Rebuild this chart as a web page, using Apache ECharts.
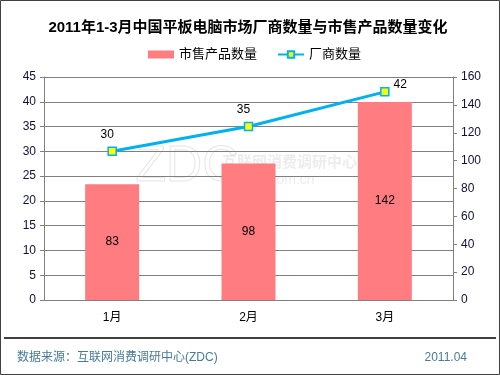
<!DOCTYPE html>
<html><head><meta charset="utf-8">
<script src="https://cdn.jsdelivr.net/npm/echarts@6/dist/echarts.min.js"></script>
<style>html,body{margin:0;padding:0;background:#fff}#c{width:500px;height:375px}</style>
</head><body><div id="c"></div>
<script>
const categories = ['1月', '2月', '3月'];
const productCounts = [83, 98, 142];
const vendorCounts = [30, 35, 42];
const leftTicks = [0, 45, 5];
const rightTicks = [0, 160, 20];

const chart = echarts.init(document.getElementById('c'));
const font = 'Arial, "Liberation Sans", "Noto Sans CJK SC", sans-serif';
const lineData = vendorCounts.map((v, i) => i === vendorCounts.length - 1
  ? {value: v, label: {position: 'right', offset: [0, -7], distance: 4}}
  : {value: v, label: {offset: [-5, 0]}});
chart.setOption({
  backgroundColor: '#fff',
  animation: false,
  title: {
    text: '2011年1-3月中国平板电脑市场厂商数量与市售产品数量变化',
    left: 243, top: 15, textAlign: 'center',
    textStyle: {fontSize: 15, fontWeight: 'bold', color: '#000', fontFamily: font}
  },
  legend: {
    top: 43, left: 143, itemGap: 20, itemWidth: 26, itemHeight: 8,
    textStyle: {fontSize: 13, color: '#000', fontFamily: font},
    data: [{name: '市售产品数量', icon: 'rect'}, {name: '厂商数量'}]
  },
  grid: {left: 44, right: 47, top: 77, bottom: 75},
  xAxis: {
    type: 'category', data: categories,
    axisLine: {lineStyle: {color: '#808080'}},
    axisTick: {lineStyle: {color: '#808080'}, length: 4},
    axisLabel: {color: '#000', fontSize: 12, margin: 12, fontFamily: font}
  },
  yAxis: [
    {type: 'value', min: leftTicks[0], max: leftTicks[1], interval: leftTicks[2],
     axisLine: {show: true, lineStyle: {color: '#808080'}},
     axisTick: {show: true, length: 4, lineStyle: {color: '#808080'}},
     axisLabel: {color: '#10103a', fontSize: 12, margin: 8, fontFamily: font},
     splitLine: {lineStyle: {color: '#808080'}}},
    {type: 'value', min: rightTicks[0], max: rightTicks[1], interval: rightTicks[2],
     axisLine: {show: true, lineStyle: {color: '#808080'}},
     axisTick: {show: true, length: 4, lineStyle: {color: '#808080'}},
     axisLabel: {color: '#10103a', fontSize: 12, margin: 8, fontFamily: font},
     splitLine: {show: false}}
  ],
  graphic: [
    {type: 'rect', shape: {x: 0.5, y: 0.5, width: 499, height: 374}, style: {fill: 'none', stroke: '#404040', lineWidth: 1}, z: 100},
    {type: 'line', shape: {x1: 4, y1: 338, x2: 496, y2: 338}, style: {stroke: '#000', lineWidth: 1.5}},
    {type: 'text', left: 17, top: 352, style: {text: '数据来源：互联网消费调研中心(ZDC)', fill: '#4A7A94', fontSize: 12, fontFamily: font}},
    {type: 'text', right: 33, top: 352, style: {text: '2011.04', fill: '#4A7A94', fontSize: 12, fontFamily: font}},
    {type: 'text', left: 135, top: 142, z: 0, style: {text: 'ZDC', fill: 'rgba(0,0,0,0)', stroke: 'rgba(180,180,180,0.35)', lineWidth: 1, fontSize: 50, fontFamily: font}},
    {type: 'text', left: 222, top: 155, z: 0, style: {text: '互联网消费调研中心', fill: 'rgba(200,200,200,0.35)', fontSize: 15, fontWeight: 'bold', fontFamily: font}},
    {type: 'text', left: 222, top: 173, z: 0, style: {text: 'zdc.zol.com.cn', fill: 'rgba(200,200,200,0.35)', fontSize: 14, fontFamily: font}}
  ],
  series: [
    {name: '市售产品数量', type: 'bar', yAxisIndex: 1, data: productCounts, barWidth: 54,
     itemStyle: {color: '#FF7C80'},
     label: {show: true, position: 'inside', color: '#000', fontSize: 12, fontFamily: font}},
    {name: '厂商数量', type: 'line', yAxisIndex: 0, data: lineData,
     symbol: 'rect', symbolSize: 8,
     lineStyle: {color: '#00B0F0', width: 3},
     itemStyle: {color: '#FFFF00', borderColor: '#00B0F0', borderWidth: 1.5},
     label: {show: true, position: 'top', distance: 6, color: '#000', fontSize: 12, fontFamily: font}}
  ]
});
</script></body></html>
